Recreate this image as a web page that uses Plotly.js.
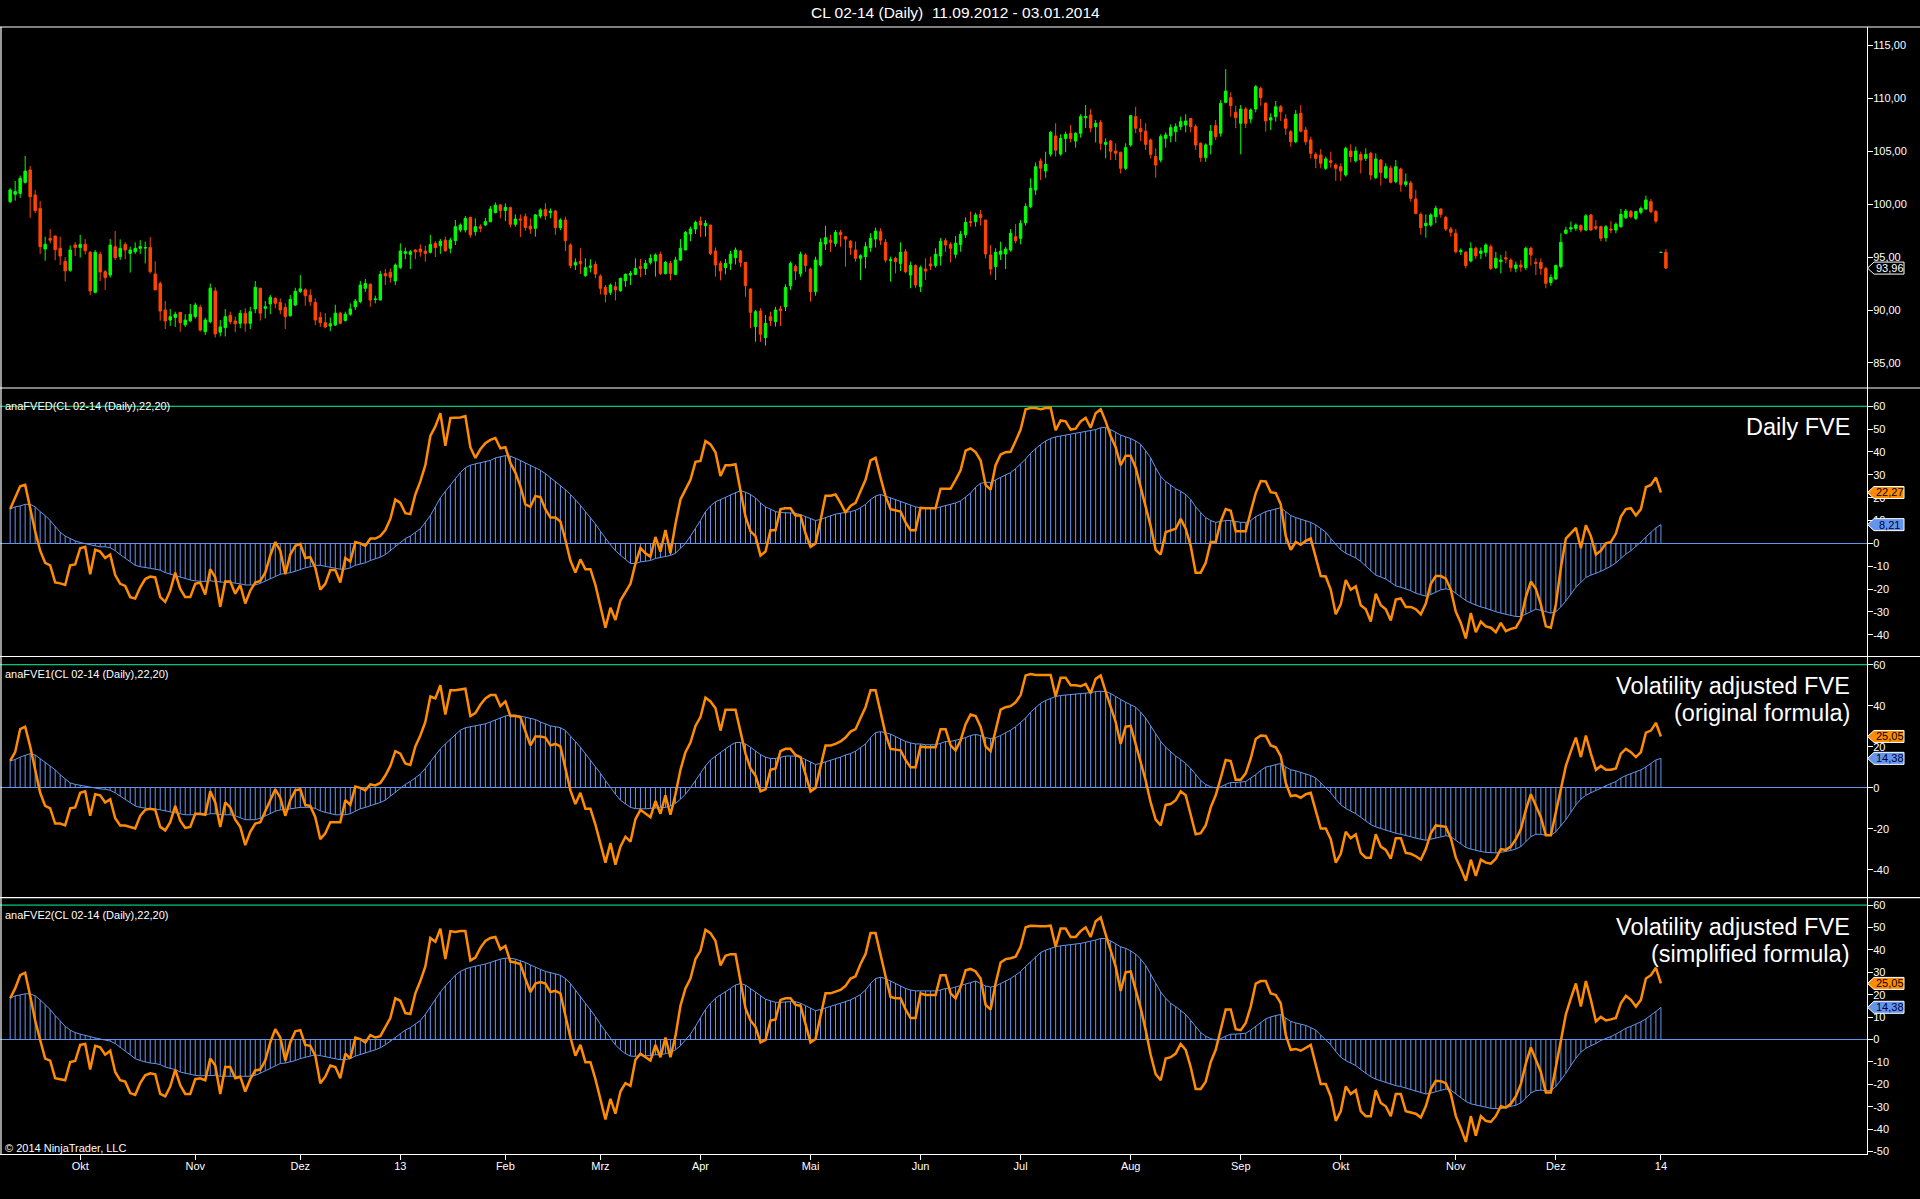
<!DOCTYPE html>
<html>
<head>
<meta charset="utf-8">
<script src="https://cdn.plot.ly/plotly-3.0.1.min.js"></script>
<style>html,body{margin:0;padding:0;background:#000;}#chart{width:1920px;height:1199px;}</style>
</head>
<body>
<div id="chart"></div>
<script>
// ---------------- DATA ----------------
const openP = [100.24,100.93,101.02,102.06,103.23,100.87,99.6,95.76,96.75,97.0,95.83,94.6,93.75,96.15,95.9,96.2,95.45,91.67,95.26,93.62,93.3,95.98,95.04,96.2,95.35,95.5,95.83,95.85,95.9,93.4,92.5,90.0,89.05,89.3,89.78,88.6,88.99,89.37,90.25,87.95,88.9,91.8,87.9,88.33,89.5,88.96,88.74,89.68,88.74,90.1,92.05,90.16,90.57,91.1,90.7,90.25,89.46,90.47,91.76,91.9,91.4,90.72,89.3,88.8,88.5,88.58,89.7,89.0,89.6,90.3,90.8,92.05,92.43,91.0,90.94,93.43,93.56,92.74,94.03,95.35,95.26,95.67,95.76,95.57,95.45,96.3,96.07,96.6,95.83,96.55,97.56,97.56,98.75,97.4,97.87,98.03,98.35,99.2,99.92,99.4,99.67,98.1,98.6,98.82,97.93,97.72,98.88,99.5,99.2,99.35,97.78,98.5,96.14,94.25,94.6,93.24,94.03,94.3,93.2,92.14,91.67,92.2,91.83,92.77,93.3,93.37,94.1,93.93,94.5,94.63,95.26,93.43,94.4,93.37,94.72,95.67,97.18,97.65,98.4,97.97,98.03,95.57,94.4,94.0,94.4,94.94,95.57,94.5,91.98,88.43,89.9,87.4,89.37,88.9,90.1,90.3,92.3,94.1,93.43,95.2,93.87,91.73,94.25,96.23,96.6,96.3,97.34,96.93,96.5,95.67,94.88,95.04,95.9,96.7,97.4,96.4,94.66,94.88,94.4,95.5,93.3,94.2,92.2,93.87,94.35,94.2,95.1,96.55,96.2,95.26,96.2,97.1,98.35,98.35,99.04,98.5,95.2,94.1,95.26,95.3,95.67,96.93,96.77,98.25,99.77,101.34,104.08,103.13,104.74,106.44,104.74,106.2,106.7,105.97,106.7,108.17,108.43,107.32,107.73,105.65,105.97,105.02,104.9,103.39,105.6,108.27,107.17,106.9,106.06,104.5,104.17,106.22,106.47,106.85,107.32,107.48,108.1,107.32,105.75,104.4,105.6,107.42,106.7,109.62,110.06,108.68,107.64,108.99,108.05,108.99,110.94,109.53,107.95,108.27,109.2,108.05,106.85,105.9,108.58,107.0,106.06,104.7,104.65,103.39,104.1,103.7,103.54,102.76,105.02,104.1,104.7,104.33,104.8,102.5,104.17,102.5,103.4,102.12,103.32,101.87,102.0,100.49,99.04,97.97,98.03,98.82,99.55,98.75,97.65,97.25,95.5,95.45,94.63,95.83,95.35,95.45,95.98,94.0,94.57,94.94,94.72,93.93,94.25,94.0,95.83,94.5,94.5,93.93,92.6,92.93,94.1,97.25,97.65,97.72,97.97,97.56,98.98,97.87,97.87,96.83,97.65,97.56,97.87,98.72,99.3,98.66,99.23,99.55,100.24,99.3,95.44,95.45];
const highP = [101.5,102.19,102.7,104.55,103.6,101.34,100.3,96.93,97.65,97.0,96.93,95.0,96.1,96.4,97.1,96.7,95.57,95.67,95.5,93.78,96.7,97.46,96.68,96.4,95.98,96.4,96.6,96.46,96.9,94.6,92.7,90.85,90.1,89.84,89.8,89.6,90.57,90.7,90.5,89.27,92.5,92.14,89.05,90.1,89.84,89.37,90.0,90.16,90.3,92.74,92.1,90.85,91.42,91.2,91.1,90.63,91.42,92.1,93.3,92.05,91.95,91.1,89.8,89.7,89.3,90.5,89.84,89.84,90.63,91.04,92.74,92.93,92.52,91.35,93.68,93.87,93.93,94.4,96.3,95.9,95.67,95.76,96.2,96.07,97.1,96.5,96.7,96.93,96.83,98.5,98.19,98.88,98.82,98.66,98.1,98.72,99.83,100.17,100.0,100.08,99.77,99.04,99.04,99.13,98.66,99.07,99.6,100.08,99.6,99.45,98.66,98.82,96.3,94.88,95.83,94.88,94.8,94.6,93.37,92.36,92.5,92.68,93.06,93.46,93.68,94.88,94.82,94.72,95.26,95.35,95.5,94.63,94.63,95.04,96.7,97.46,97.87,98.44,98.82,98.5,98.03,95.9,94.63,94.82,95.57,95.9,95.67,94.5,92.05,90.0,90.16,89.53,89.84,90.3,90.4,92.43,94.57,94.3,95.5,95.35,94.0,95.04,96.77,97.94,97.1,97.56,97.56,96.93,96.6,96.46,95.26,96.4,97.25,97.78,97.72,96.7,95.04,95.04,96.4,95.76,94.57,94.3,94.2,94.88,95.04,95.83,96.8,96.8,96.4,97.0,97.46,98.75,99.3,99.2,99.45,98.5,96.14,95.83,96.46,95.98,97.65,98.12,98.5,100.08,102.44,103.95,104.33,104.96,106.9,107.64,106.6,106.85,107.48,106.8,108.5,109.37,109.0,107.95,107.95,106.22,106.06,105.75,104.96,105.75,108.43,109.2,108.05,107.64,106.2,105.27,106.6,106.79,107.54,107.64,108.27,108.49,108.1,107.54,105.84,105.75,107.48,107.95,109.84,112.77,110.57,109.3,109.37,109.2,109.05,111.26,111.1,109.62,108.58,109.75,109.37,108.49,107.0,108.9,109.37,107.32,106.38,104.9,105.2,104.5,104.96,103.86,103.86,105.43,105.65,105.43,104.96,105.27,104.96,104.8,104.27,103.86,103.64,104.17,103.45,102.91,102.2,101.34,99.23,99.04,99.13,99.86,99.6,98.9,97.87,97.65,95.83,95.57,96.4,95.98,95.9,96.3,96.2,95.5,95.2,95.57,94.88,94.57,94.72,95.98,95.98,94.88,94.88,94.1,93.37,94.3,97.25,97.87,98.35,98.19,98.1,99.07,99.07,98.5,97.97,98.03,98.4,98.28,99.55,99.55,99.45,99.35,99.77,100.8,100.49,99.45,95.46,95.76];
const lowP = [100.1,100.33,100.6,101.94,98.7,99.13,95.3,94.66,96.3,94.7,94.25,92.7,93.6,95.1,94.95,95.26,91.4,91.57,92.74,91.9,93.06,94.72,94.72,94.8,93.53,95.3,95.3,94.4,93.46,91.9,89.0,88.2,88.5,88.4,87.95,88.4,88.84,89.2,87.95,87.64,88.74,87.4,87.5,87.5,88.65,87.9,88.27,87.95,88.2,89.7,89.0,89.2,89.6,90.16,89.6,88.2,89.37,90.4,91.6,90.4,90.4,88.58,88.4,88.27,88.0,88.5,88.65,88.9,89.46,90.0,90.63,91.7,90.3,90.63,90.94,92.36,92.6,92.36,93.87,94.8,93.87,94.8,95.04,94.57,95.35,95.0,95.3,95.5,95.35,96.14,97.34,97.34,96.83,97.03,97.34,97.96,98.28,99.13,98.66,98.4,97.8,97.87,96.9,97.5,97.2,96.93,98.66,98.5,98.66,97.1,97.56,95.57,93.93,93.78,93.4,93.15,93.56,93.0,91.48,90.72,91.42,90.9,91.73,92.2,92.36,93.3,93.1,93.3,94.3,93.15,93.3,93.37,92.8,93.3,94.63,95.67,96.5,97.18,96.9,96.93,95.2,93.15,92.8,93.37,93.78,94.3,94.06,91.26,88.27,87.0,87.0,86.63,88.5,88.43,88.5,89.9,91.9,92.83,93.15,93.62,90.78,91.35,94.1,95.67,95.5,95.98,95.98,94.1,95.2,94.57,92.83,93.93,95.5,95.9,96.14,94.5,92.68,93.46,93.68,93.46,92.05,92.05,91.7,92.83,93.78,94.0,94.2,95.5,94.5,94.88,95.5,96.8,97.87,97.87,97.97,94.88,93.3,92.83,94.72,93.87,95.5,96.3,96.2,97.97,99.6,100.87,102.28,102.5,104.5,104.5,104.58,104.9,105.84,105.34,106.28,107.2,106.8,105.84,105.12,104.33,104.17,104.17,102.9,103.23,105.43,106.7,105.97,105.12,104.33,102.5,103.95,105.34,105.84,105.9,107.0,106.79,106.79,105.12,104.0,104.0,104.7,106.06,106.38,109.53,108.27,107.17,104.7,107.2,107.64,108.68,109.3,106.85,107.0,107.8,107.86,106.54,105.43,105.75,106.79,105.6,104.33,103.39,103.39,103.23,103.45,102.2,102.2,102.6,103.95,103.95,102.9,104.08,102.28,102.38,101.75,102.38,101.97,101.97,101.18,101.65,100.24,99.04,97.1,96.83,97.87,98.19,98.72,97.46,96.93,95.35,95.2,93.93,94.5,94.82,94.8,95.04,93.78,93.87,93.46,94.4,93.62,93.56,93.62,93.78,94.2,93.3,93.3,92.05,92.3,92.84,93.93,97.15,97.34,97.46,97.34,97.46,97.46,97.56,96.5,96.46,97.25,97.25,97.78,98.6,98.66,98.5,99.04,99.45,99.13,98.19,95.43,93.87];
const closeP = [101.34,101.2,102.44,103.13,100.7,99.39,95.98,96.2,96.6,95.7,95.1,93.7,95.67,95.9,96.2,95.6,91.8,95.45,93.6,93.06,96.14,94.94,95.83,95.67,95.67,95.83,95.98,95.9,93.62,91.9,89.9,88.96,89.37,89.6,88.8,89.05,89.6,90.47,88.1,89.05,92.05,87.74,88.4,89.37,88.9,88.7,89.68,88.74,89.84,92.14,89.7,90.3,91.2,90.63,90.0,89.37,91.0,91.76,92.0,91.35,90.8,89.05,88.8,88.4,88.7,89.7,88.74,89.6,90.1,90.85,92.36,92.5,90.94,91.04,93.37,93.24,93.1,94.25,95.57,95.5,95.5,95.5,95.5,95.35,96.2,95.9,96.5,95.6,96.6,97.87,98.03,98.66,97.1,97.87,97.72,98.35,99.55,99.9,99.39,99.7,98.1,98.6,98.5,97.8,97.65,98.98,99.45,98.9,99.35,97.78,98.5,96.55,94.2,94.5,94.4,94.0,94.16,93.4,92.05,91.48,92.36,91.9,92.99,93.37,93.46,93.93,93.93,94.4,94.88,95.2,93.46,94.5,93.46,94.72,95.83,97.34,97.65,98.28,98.03,98.19,95.35,94.25,93.68,94.4,95.26,95.67,94.5,92.3,89.78,89.84,87.7,88.74,89.0,90.0,89.94,92.14,94.4,93.68,95.26,94.2,91.73,94.72,96.4,96.83,96.4,97.34,97.1,96.7,95.9,94.88,95.13,95.98,96.77,97.46,96.6,94.72,94.75,94.57,95.45,93.62,94.2,92.36,94.0,93.68,94.16,95.26,96.5,96.14,95.83,96.3,97.15,98.28,98.28,98.98,98.72,95.3,93.87,95.45,95.57,95.76,97.25,96.55,98.19,99.77,101.5,103.54,103.4,103.76,106.79,105.1,106.2,106.6,106.2,106.7,108.27,108.27,107.2,107.64,105.75,105.84,105.0,104.8,103.39,105.34,108.36,107.17,106.85,105.65,104.7,103.7,106.38,106.54,107.23,107.32,107.8,107.86,107.32,105.59,104.4,105.6,106.9,106.38,109.53,110.69,109.3,108.17,108.99,107.64,108.9,111.1,110.06,107.86,108.17,109.2,108.74,107.17,105.9,108.49,106.9,105.9,104.8,104.33,103.86,104.27,103.95,103.39,103.13,105.27,104.5,105.02,104.17,104.7,102.76,104.27,103.0,103.54,102.06,103.54,101.87,102.12,100.55,99.13,97.78,98.2,98.98,99.6,99.04,97.65,97.34,95.5,95.6,94.2,95.83,95.13,95.57,96.14,93.93,94.88,94.72,94.82,94.0,94.25,94.06,95.83,95.2,94.4,93.93,92.52,93.06,94.2,96.4,97.56,97.78,98.03,97.56,98.9,97.56,97.72,96.77,97.87,97.56,98.1,99.04,99.35,98.82,99.3,99.6,100.4,99.3,98.4,95.45,93.96];

const fvedLine = [15.0,19.9,25.0,25.6,15.0,5.3,-3.2,-8.5,-9.6,-17.1,-17.5,-18.2,-9.6,-9.2,-2.1,-1.5,-13.5,-2.8,-3.6,-6.4,-4.9,-13.9,-17.7,-18.6,-23.5,-24.1,-19.2,-15.6,-14.5,-14.9,-23.5,-25.6,-20.7,-12.8,-19.9,-23.5,-23.5,-17.7,-17.1,-22.4,-11.3,-14.9,-27.8,-16.7,-16.7,-22.0,-18.2,-26.3,-20.7,-17.1,-16.4,-12.8,-5.3,0.6,-3.2,-13.5,-4.9,-1.1,-0.2,-6.4,-6.0,-10.7,-20.3,-17.7,-11.7,-11.7,-17.1,-6.4,-7.9,0.6,0,-1.1,2.1,2.1,3.2,5.8,10.7,19.2,17.7,13.2,12.8,21.4,27.1,34.2,47.0,51.2,57.0,42.7,54.9,54.9,55.1,55.7,42.1,37.4,41.2,43.8,45.3,46.1,41.6,42.1,35.2,31.0,25.0,17.1,16.0,20.7,20.3,15.0,11.3,11.3,9.6,1.5,-7.5,-12.8,-7.0,-11.3,-11.3,-18.2,-27.8,-36.9,-28.2,-33.5,-25.0,-21.4,-17.7,-8.8,-2.1,-4.3,-5.8,2.8,-3.6,5.8,-4.3,8.5,19.2,23.5,27.8,35.7,36.1,44.8,43.3,39.9,29.5,34.2,34.2,34.6,23.5,11.7,5.3,3.2,-5.3,-3.6,5.8,5.8,15.0,15.4,15.4,12.2,12.2,4.3,-1.5,0,10.0,20.9,20.9,21.4,17.7,13.5,16.4,17.7,22.8,27.8,36.3,37.4,28.8,20.7,15.0,14.3,13.9,9.2,5.8,5.8,15.6,15.4,15.4,15.4,23.9,23.9,23.9,27.8,32.0,40.6,41.6,39.9,36.3,25.6,23.5,34.2,38.9,39.9,40.1,44.8,49.8,58.7,59.2,59.2,58.7,59.2,59.4,49.5,53.8,53.4,49.8,50.2,53.4,54.9,50.6,57.0,58.7,53.4,47.0,42.1,34.2,38.4,38.4,33.1,24.6,16.0,7.5,-2.8,-4.9,4.9,5.8,6.4,10.7,6.4,-1.1,-12.8,-12.8,-8.5,0.6,0.6,9.6,15.0,14.3,5.3,5.3,5.3,13.9,22.0,27.3,27.1,22.4,22.0,17.1,3.2,-2.8,0.6,-0.6,1.1,2.1,-6.4,-14.3,-14.5,-20.3,-31.0,-26.7,-16.0,-20.3,-18.8,-27.1,-28.8,-34.2,-22.0,-27.1,-28.8,-33.7,-24.6,-24.1,-27.8,-27.8,-28.8,-31.0,-26.3,-17.7,-14.3,-14.3,-15.4,-20.3,-29.9,-34.8,-41.6,-30.5,-38.9,-34.2,-36.3,-36.9,-38.9,-34.8,-38.4,-37.4,-36.9,-33.1,-23.5,-16.7,-19.9,-26.7,-36.3,-36.9,-26.7,-10.7,2.1,4.3,6.8,-2.1,7.9,3.2,-4.9,-3.2,0,0.6,4.3,11.7,15.0,15.4,12.2,15.0,24.6,25.6,28.8,22.27];
const fvedHist = [15.0,16.0,16.4,17.1,17.1,16.0,13.9,12.2,10.0,7.5,4.9,3.2,2.1,1.1,0.4,-0.2,-0.6,-1.1,-1.5,-1.5,-1.9,-3.2,-4.9,-6.4,-7.9,-9.6,-10.2,-10.7,-10.9,-11.3,-11.7,-12.8,-13.5,-13.9,-14.9,-15.6,-16.0,-16.4,-16.7,-16.7,-16.4,-16.7,-17.1,-17.1,-17.1,-17.3,-17.7,-18.2,-18.2,-18.2,-17.5,-16.4,-15.6,-14.5,-13.5,-13.2,-12.8,-12.2,-11.3,-10.7,-10.2,-9.6,-9.6,-10.0,-10.5,-10.9,-11.3,-11.3,-10.7,-9.6,-9.0,-8.5,-7.5,-6.8,-6.0,-4.9,-3.2,-1.5,0.6,2.1,3.2,4.7,6.4,9.2,12.2,16.0,19.9,22.8,25.6,28.2,31.0,33.1,34.2,34.8,35.2,35.7,36.3,37.4,38.0,38.4,38.2,37.4,36.3,35.2,34.2,33.1,32.0,30.5,28.8,27.1,25.4,23.5,21.4,19.2,16.7,13.9,11.3,8.5,5.3,2.1,-0.6,-3.2,-5.3,-7.0,-8.8,-8.8,-8.1,-7.9,-7.5,-6.6,-6.2,-5.8,-5.3,-4.3,-2.1,0,3.2,6.4,10.0,13.9,16.4,18.2,19.2,20.3,21.4,22.4,23.1,22.4,21.4,19.9,17.7,16.0,15.0,13.9,13.5,13.5,13.5,13.2,12.6,11.7,10.7,10.0,10.5,11.3,12.2,12.8,13.2,13.5,13.9,14.5,15.6,17.1,19.2,20.7,21.4,20.7,19.9,19.2,18.6,17.7,16.7,16.0,15.6,15.6,15.4,15.4,16.0,16.7,17.1,17.7,18.6,20.3,22.0,24.6,26.3,26.7,26.7,27.8,28.8,29.9,31.0,32.7,34.8,36.9,39.5,41.6,43.3,44.8,45.9,46.6,47.0,47.4,47.6,48.0,48.5,48.9,49.3,49.8,50.6,50.8,49.8,48.5,47.4,46.6,45.9,44.8,43.3,40.6,37.4,33.1,29.3,27.1,25.6,23.9,22.8,21.4,19.2,16.0,13.5,11.3,10.0,9.2,9.6,10.0,10.0,9.6,9.2,9.2,10.0,11.7,12.8,13.9,14.5,15.2,15.6,13.9,12.2,11.3,10.7,10.0,9.2,8.1,6.4,4.9,2.1,-0.6,-2.8,-4.3,-5.3,-6.4,-7.9,-10.0,-12.2,-13.9,-14.7,-15.6,-17.1,-18.6,-19.2,-19.9,-20.7,-21.8,-22.4,-23.1,-22.4,-21.4,-20.3,-19.9,-20.3,-21.8,-23.5,-25.0,-26.1,-27.1,-27.8,-28.4,-29.3,-29.9,-30.5,-31.0,-31.6,-32.0,-32.0,-31.0,-29.9,-28.8,-29.3,-29.9,-30.5,-29.9,-27.8,-25.2,-22.4,-19.2,-17.1,-14.9,-13.9,-13.2,-12.2,-11.1,-10.0,-8.5,-6.4,-4.7,-3.2,-1.5,0.6,2.8,4.9,6.8,8.21];

const fve1Line = [13.1,17.4,28.6,29.8,20.2,8.3,-2.4,-8.8,-10.0,-17.4,-17.4,-18.3,-10.0,-9.5,-2.4,-1.7,-13.6,-3.1,-3.6,-7.1,-5.5,-14.8,-18.3,-18.3,-19.0,-19.8,-13.6,-10.7,-10.2,-10.7,-19.0,-20.7,-16.7,-8.8,-16.0,-19.5,-19.0,-12.6,-12.6,-13.1,-1.7,-7.1,-19.0,-7.1,-9.5,-15.5,-19.0,-27.9,-21.4,-17.4,-16.7,-11.2,-6.0,-0.7,-4.8,-13.6,-6.0,-1.2,-0.7,-8.3,-8.8,-14.3,-25.0,-22.1,-16.7,-16.7,-16.7,-6.0,-8.3,0.7,0,-1.2,1.7,1.2,2.4,6.0,10.7,17.9,16.7,11.9,11.2,20.2,25.5,32.1,44.5,43.6,50.0,35.7,47.6,47.6,48.1,48.3,35.0,36.4,40.5,43.6,45.2,45.2,39.8,42.1,35.0,35.0,34.5,27.4,20.7,25.0,25.0,24.5,20.7,21.4,20.2,9.5,-1.2,-7.9,-2.4,-10.2,-10.2,-17.9,-27.4,-36.4,-26.9,-37.4,-28.6,-23.8,-26.2,-15.2,-10.7,-12.6,-14.3,-6.4,-12.6,-3.6,-13.1,-3.1,8.8,17.4,22.1,30.2,34.5,44.0,42.1,38.8,27.9,38.1,38.1,38.1,27.4,16.7,9.5,6.0,-1.7,-0.7,8.8,9.5,17.9,19.0,19.0,16.0,15.0,6.4,-1.7,0,10.7,20.7,20.7,21.4,22.6,24.5,27.4,28.6,34.0,39.3,47.6,47.6,36.9,26.2,19.0,18.6,18.3,13.6,10.0,10.0,20.2,19.8,19.8,19.8,28.6,28.6,20.7,18.3,23.1,31.0,35.7,35.0,29.8,20.2,17.9,27.4,38.1,39.3,39.8,41.7,45.2,54.8,55.5,55.0,55.0,55.0,55.0,44.5,53.6,53.6,50.0,50.0,49.5,50.7,46.0,53.1,54.8,46.9,39.3,32.1,21.4,29.8,30.2,21.4,13.1,3.6,-7.1,-15.5,-18.3,-8.3,-7.9,-6.0,-1.7,-3.6,-13.1,-22.6,-22.1,-18.3,-9.5,-3.6,4.8,13.6,13.1,4.0,4.0,7.1,14.3,23.8,25.5,25.3,20.7,19.8,15.5,2.4,-4.0,-3.6,-4.8,-3.1,-2.4,-10.7,-19.8,-19.8,-25.0,-36.4,-32.1,-21.4,-24.5,-22.6,-31.7,-34.0,-34.0,-22.6,-28.6,-30.2,-34.5,-24.5,-24.5,-31.7,-32.1,-33.3,-35.0,-29.8,-22.1,-18.3,-18.6,-19.0,-24.5,-34.0,-39.3,-45.2,-35.0,-42.9,-35.0,-36.4,-36.9,-34.5,-29.8,-30.2,-28.6,-25.0,-20.2,-10.7,-3.1,-8.3,-14.3,-23.1,-23.1,-11.9,0,10.7,17.9,24.5,15.0,25.5,16.7,8.8,10.7,8.8,8.8,9.5,16.7,19.0,17.4,15.0,17.4,26.9,27.9,31.7,25.05];
const fve1Hist = [13.1,13.8,15.0,16.0,16.7,16.0,14.3,12.6,10.7,8.8,6.4,4.3,2.4,1.7,1.2,0.7,0.2,0,-0.5,-0.7,-1.2,-2.4,-4.0,-5.5,-7.1,-8.8,-9.5,-10.0,-10.2,-10.2,-10.7,-11.4,-11.9,-12.1,-12.6,-13.1,-13.1,-13.1,-13.1,-13.1,-12.6,-12.6,-13.1,-13.1,-13.1,-13.6,-14.5,-15.5,-15.5,-15.5,-14.8,-13.6,-12.6,-11.4,-10.7,-10.7,-10.2,-9.8,-9.5,-9.5,-9.5,-10.0,-11.2,-11.9,-12.6,-13.1,-13.1,-13.1,-12.6,-11.2,-10.2,-9.5,-8.8,-7.9,-7.1,-6.0,-4.0,-2.4,0,1.7,3.1,4.8,6.7,9.5,12.6,16.0,19.0,21.4,23.8,26.2,28.1,29.3,29.8,30.2,30.7,31.2,32.1,33.1,34.0,35.0,35.5,35.5,35.0,34.5,34.0,33.3,32.1,31.0,30.2,29.8,29.3,27.9,25.0,22.6,19.8,16.7,13.6,10.2,7.1,3.6,0,-3.1,-6.0,-7.9,-9.5,-10.1,-10.2,-10.2,-10.0,-9.8,-9.5,-9.5,-8.8,-7.6,-5.5,-3.1,0,3.6,7.1,10.7,13.6,15.5,17.4,19.0,20.7,22.1,22.1,21.4,19.8,17.9,16.2,15.0,14.3,14.3,15.0,15.5,15.5,15.5,15.0,13.8,12.6,11.4,11.9,12.6,13.6,14.3,15.0,16.0,16.7,17.9,19.5,21.4,24.5,26.9,27.4,26.9,26.2,25.0,23.8,22.6,21.9,21.4,21.4,21.0,21.0,21.0,21.7,22.6,22.6,23.1,23.8,24.5,25.5,26.0,25.5,24.5,24.0,24.5,25.5,26.9,28.1,29.8,31.7,34.0,36.9,39.3,41.2,42.6,43.6,44.5,45.0,45.2,45.5,45.7,46.0,46.2,46.4,46.9,47.1,46.9,46.0,44.5,42.9,41.7,40.5,39.3,36.9,34.0,30.2,26.2,22.6,19.8,17.4,15.5,13.8,11.9,9.5,6.7,3.6,1.7,0.5,0,0.5,1.7,2.6,2.6,2.9,3.1,4.8,6.4,8.5,10.1,10.7,11.4,11.9,10.2,8.8,8.3,7.6,6.9,6.0,4.8,2.4,0,-2.4,-5.5,-8.3,-10.0,-11.2,-12.6,-14.3,-16.2,-17.9,-19.0,-19.8,-20.7,-21.4,-22.1,-22.6,-23.1,-23.8,-24.5,-25.0,-25.5,-25.0,-24.5,-23.8,-23.3,-23.8,-25.5,-27.4,-29.0,-29.8,-30.5,-31.0,-31.4,-31.7,-31.7,-31.4,-31.0,-30.5,-29.8,-28.6,-26.2,-23.8,-22.6,-22.6,-23.1,-23.1,-21.4,-18.6,-15.5,-11.9,-8.3,-5.5,-3.6,-2.4,-1.2,0,1.2,2.1,3.1,4.8,6.0,6.9,7.9,8.8,10.2,11.9,13.6,14.38];

const fve2Line = [18.4,22.8,28.7,29.8,19.5,8.5,-0.2,-8.5,-9.4,-17.3,-17.7,-18.2,-10.1,-9.6,-2.4,-2.0,-13.4,-2.8,-3.5,-6.8,-5.0,-14.5,-18.2,-18.8,-23.9,-24.7,-19.5,-16.0,-15.1,-15.5,-24.3,-25.4,-21.0,-13.4,-20.4,-24.3,-24.3,-17.7,-17.3,-18.2,-8.5,-11.6,-24.3,-12.3,-12.3,-17.3,-16.6,-23.2,-17.7,-13.8,-13.4,-9.4,-1.3,4.6,0.9,-9.4,-1.3,3.7,4.2,-2.4,-2.8,-7.2,-19.5,-16.6,-11.6,-12.3,-17.3,-6.3,-8.5,0.9,0.2,-1.3,2.0,0.9,1.5,5.3,9.6,18.4,17.3,11.8,11.4,20.6,26.1,32.6,45.3,43.6,49.5,35.9,48.4,48.0,48.4,48.4,35.3,36.6,40.9,44.0,45.3,45.8,40.3,41.8,34.8,34.4,33.7,27.2,21.2,25.0,25.6,25.0,21.2,21.7,20.6,10.7,0.9,-7.2,-2.4,-10.1,-10.1,-17.7,-26.5,-35.7,-26.5,-33.1,-23.2,-19.5,-20.7,-9.0,-6.3,-7.9,-9.4,-2.4,-7.9,0.9,-7.9,1.5,15.1,22.8,27.2,35.9,39.6,49.0,47.5,44.0,33.1,37.4,38.1,38.1,26.5,14.0,8.5,5.7,-1.3,-0.2,8.5,9.0,17.7,18.4,18.4,15.5,15.1,6.8,-1.3,0.2,10.7,20.6,20.6,21.2,22.1,23.9,27.2,28.2,33.7,38.1,47.5,47.5,37.4,28.2,19.0,18.4,18.4,13.4,9.6,9.6,20.6,19.9,19.9,19.9,28.7,28.7,20.6,18.4,23.4,30.9,31.5,30.4,27.2,15.5,13.4,25.0,34.4,35.9,36.3,37.0,41.4,50.1,50.8,50.6,50.6,50.6,50.8,41.4,49.5,49.5,45.8,45.8,48.4,50.1,45.8,52.8,54.5,46.9,39.2,32.6,21.7,30.0,30.4,22.1,14.0,4.2,-6.8,-15.5,-18.2,-8.5,-7.9,-6.3,-2.0,-4.6,-12.3,-22.1,-22.1,-18.8,-10.1,-4.6,4.2,13.4,13.4,4.6,4.2,7.4,14.7,25.0,26.1,26.1,20.6,19.9,16.2,2.0,-4.6,-4.2,-5.0,-3.5,-2.4,-11.2,-19.9,-19.9,-25.4,-36.3,-32.0,-21.0,-24.3,-22.6,-32.0,-34.2,-34.2,-22.6,-28.3,-29.8,-34.2,-24.3,-24.3,-32.0,-32.4,-33.1,-34.8,-29.8,-22.1,-18.4,-18.6,-19.5,-24.3,-34.2,-39.6,-45.7,-34.2,-42.9,-34.2,-36.3,-36.8,-34.2,-29.8,-30.4,-28.7,-25.4,-19.9,-10.7,-3.5,-9.0,-14.5,-23.6,-23.6,-12.3,-0.2,11.2,18.4,25.0,14.7,26.1,17.7,8.1,10.1,8.5,9.0,9.6,16.2,19.5,17.7,14.7,17.7,27.2,28.7,32.0,25.05];
const fve2Hist = [18.4,19.5,19.9,20.4,20.4,19.5,17.7,15.5,13.4,10.7,8.1,5.9,4.2,3.1,2.4,2.0,1.3,0.7,0.2,-0.2,-0.7,-1.8,-3.5,-5.0,-6.8,-8.5,-9.4,-10.1,-10.5,-10.7,-11.2,-12.3,-12.9,-13.4,-14.5,-15.1,-15.5,-16.0,-16.2,-16.2,-16.0,-16.0,-16.4,-16.4,-16.4,-16.4,-16.6,-16.6,-16.4,-16.0,-15.1,-14.0,-12.9,-11.8,-10.7,-10.5,-10.1,-9.4,-8.5,-7.9,-7.2,-6.8,-7.2,-7.7,-8.1,-8.5,-9.0,-9.0,-8.5,-7.4,-6.8,-6.1,-5.3,-4.6,-3.7,-2.4,-0.9,0.9,2.6,4.2,5.3,6.8,8.5,11.2,14.7,18.0,21.2,23.9,26.5,28.7,30.4,31.5,32.2,32.6,33.1,33.7,34.4,35.3,35.9,36.3,36.3,35.9,35.3,34.4,33.3,32.2,31.3,30.4,30.0,29.3,28.7,27.2,25.0,22.1,19.5,16.2,13.4,10.3,6.8,3.7,0.2,-2.4,-4.6,-6.3,-7.4,-7.5,-7.2,-7.2,-7.2,-6.8,-6.8,-6.3,-5.7,-4.6,-2.8,-0.2,2.4,5.9,9.6,13.4,16.2,18.4,19.9,21.2,22.8,24.3,25.0,24.3,22.8,21.2,19.5,18.0,17.3,16.6,16.6,16.9,16.9,16.9,16.2,15.1,14.0,12.9,13.4,14.0,14.7,15.5,16.2,16.9,17.7,18.8,20.1,22.1,25.0,27.2,27.8,27.2,26.1,25.0,23.9,22.8,22.1,21.7,21.7,21.7,21.7,21.7,22.1,22.8,22.8,23.4,23.9,24.5,25.4,26.1,25.0,23.9,23.4,23.9,25.0,26.1,27.2,28.7,30.4,32.6,34.8,37.0,38.8,39.9,40.7,41.4,41.8,42.0,42.3,42.5,42.9,43.4,43.8,44.4,45.1,45.1,44.0,42.5,41.4,40.7,39.6,38.1,35.9,33.1,29.3,25.0,21.2,18.4,16.2,14.7,12.9,11.2,8.5,5.9,3.1,1.5,0.4,-0.2,0.4,1.5,2.4,2.4,2.6,2.8,4.2,5.9,7.6,9.2,10.1,10.7,11.2,9.6,8.1,7.4,6.8,6.3,5.3,4.2,2.0,-0.2,-2.4,-5.3,-7.9,-9.4,-10.5,-11.6,-13.4,-15.1,-16.6,-17.7,-18.4,-19.3,-19.9,-20.6,-21.0,-21.7,-22.3,-23.2,-23.9,-24.3,-23.9,-23.2,-22.6,-22.1,-22.6,-24.3,-26.1,-27.6,-28.7,-29.3,-29.8,-30.2,-30.7,-30.9,-30.9,-30.4,-30.0,-29.3,-28.3,-26.1,-23.9,-22.8,-22.6,-22.8,-22.8,-21.0,-18.2,-15.1,-11.6,-8.3,-5.7,-3.9,-2.8,-1.8,-0.4,0.4,1.3,2.4,3.7,5.0,5.9,6.8,7.9,9.2,10.7,12.5,14.38];

const monthTickBar = [14,37,58,78,99,118,138,160,182,202,224,246,266,289,309,330];
const monthTickText = ['Okt','Nov','Dez','13','Feb','Mrz','Apr','Mai','Jun','Jul','Aug','Sep','Okt','Nov','Dez','14'];
const priceTicks = [85,90,95,100,105,110,115];
const fvedTicks = [60,50,40,30,20,10,0,-10,-20,-30,-40];
const fve1Ticks = [60,40,20,0,-20,-40];
const fve2Ticks = [60,50,40,30,20,10,0,-10,-20,-30,-40,-50];

// ---------------- LAYOUT GEOMETRY ----------------
const FONT = 'Arial, "Liberation Sans", sans-serif';
const W = 1920, H = 1199, PR = 1867, PT = 27, PB = 1154;
const paneTops = [27, 388, 656.5, 897.7, 1154];
const ranges = { y:[82.63,116.74], y2:[-49.5,68.0], y3:[-53.5,64.0], y4:[-51.1,63.3] };
const paneOf = { y:0, y2:1, y3:2, y4:3 };
const pX = X => X / PR;
const pY = Y => (PB - Y) / (PB - PT);
function valPx(ax, v) {
  const r = ranges[ax], i = paneOf[ax];
  return paneTops[i] + (r[1] - v) / (r[1] - r[0]) * (paneTops[i+1] - paneTops[i]);
}
const bars = closeP.map((_, i) => i);
const fmt = v => v.toFixed(2).replace('.', ',');

// ---------------- TRACES ----------------
const traces = [];
traces.push({
  type:'candlestick', x:bars, open:openP, high:highP, low:lowP, close:closeP,
  xaxis:'x', yaxis:'y', whiskerwidth:0, hoverinfo:'skip',
  increasing:{line:{color:'#00FF00', width:1}, fillcolor:'#00FF00'},
  decreasing:{line:{color:'#FF4500', width:1}, fillcolor:'#FF4500'}
});
function addPanel(lineVals, histVals, ax) {
  const xs = [], ys = [];
  histVals.forEach((v, i) => { xs.push(i, i, null); ys.push(0, v, null); });
  traces.push({type:'scatter', mode:'lines', x:xs, y:ys, xaxis:'x', yaxis:ax,
    line:{color:'#6495ED', width:1}, hoverinfo:'skip', connectgaps:false});
  traces.push({type:'scatter', mode:'lines', x:histVals.map((_, i) => i), y:histVals, xaxis:'x', yaxis:ax,
    line:{color:'#6495ED', width:1}, hoverinfo:'skip'});
  traces.push({type:'scatter', mode:'lines', x:lineVals.map((_, i) => i), y:lineVals, xaxis:'x', yaxis:ax,
    line:{color:'#FF8C00', width:2.5}, hoverinfo:'skip'});
}
addPanel(fvedLine, fvedHist, 'y2');
addPanel(fve1Line, fve1Hist, 'y3');
addPanel(fve2Line, fve2Hist, 'y4');

// ---------------- AXES ----------------
const tickFont = {family:FONT, size:11, color:'#FFFFFF'};
function yAxis(ax, ticks, labels, zero) {
  const i = paneOf[ax];
  return {
    domain:[pY(paneTops[i+1]), pY(paneTops[i])], anchor:'x', side:'right',
    range:ranges[ax], autorange:false, fixedrange:true,
    tickmode:'array', tickvals:ticks, ticktext:labels,
    ticks:'outside', ticklen:5, tickwidth:1, tickcolor:'#FFFFFF', ticklabelstandoff:-2,
    showline:true, linecolor:'#FFFFFF', linewidth:1, showgrid:false,
    zeroline:zero, zerolinecolor:'#6495ED', zerolinewidth:1, tickfont:tickFont
  };
}
const lastIdx = fvedLine.length - 1;

// ---------------- SHAPES ----------------
const shapes = [];
['y2','y3','y4'].forEach(ax => shapes.push({type:'line', xref:'paper', yref:ax, x0:0, x1:1, y0:60, y1:60,
  line:{color:'#00FA9A', width:1}, layer:'below'}));
[27, 388, 656.5, 897.7].forEach(Y => shapes.push({type:'line', xref:'paper', yref:'paper',
  x0:0, x1:W / PR, y0:pY(Y), y1:pY(Y), line:{color:'#FFFFFF', width:1.2}}));
shapes.push({type:'line', xref:'paper', yref:'paper', x0:pX(1), x1:pX(1), y0:0, y1:1,
  line:{color:'#FFFFFF', width:1.2}});

const annotations = [];
function tag(ax, value, fill, txtColor) {
  const yc = valPx(ax, value), h = 6;
  const path = `M ${pX(1867.5)},${pY(yc)} L ${pX(1874)},${pY(yc - h)} L ${pX(1904)},${pY(yc - h)} L ${pX(1904)},${pY(yc + h)} L ${pX(1874)},${pY(yc + h)} Z`;
  shapes.push({type:'path', xref:'paper', yref:'paper', path:path, fillcolor:fill,
    line:{color:'#FFFFFF', width:1}, layer:'above'});
  annotations.push({xref:'paper', yref:'paper', x:pX(1889.5), y:pY(yc), xanchor:'center', yanchor:'middle',
    text:fmt(value), showarrow:false, font:{family:FONT, size:11, color:txtColor}});
}
tag('y', closeP[closeP.length - 1], '#000000', '#FFFFFF');
tag('y2', fvedLine[lastIdx], '#FF8C00', '#000000');
tag('y2', fvedHist[lastIdx], '#6495ED', '#000033');
tag('y3', fve1Line[lastIdx], '#FF8C00', '#000000');
tag('y3', fve1Hist[lastIdx], '#6495ED', '#000033');
tag('y4', fve2Line[lastIdx], '#FF8C00', '#000000');
tag('y4', fve2Hist[lastIdx], '#6495ED', '#000033');

// ---------------- TEXTS ----------------
function txt(text, X, Y, size, anchor) {
  annotations.push({xref:'paper', yref:'paper', x:pX(X), y:pY(Y), xanchor:anchor, yanchor:'middle',
    text:text, showarrow:false, font:{family:FONT, size:size, color:'#FFFFFF'}});
}
txt('CL 02-14 (Daily) \u00a011.09.2012 - 03.01.2014', 955, 13, 15.5, 'center');
txt('anaFVED(CL 02-14 (Daily),22,20)', 3, 406, 11, 'left');
txt('anaFVE1(CL 02-14 (Daily),22,20)', 3, 674, 11, 'left');
txt('anaFVE2(CL 02-14 (Daily),22,20)', 3, 915, 11, 'left');
txt('\u00a9 2014 NinjaTrader, LLC', 3, 1148, 11, 'left');
txt('Daily FVE', 1852, 427, 23.5, 'right');
txt('Volatility adjusted FVE', 1852, 686, 23.5, 'right');
txt('(original formula)', 1852, 713, 23.5, 'right');
txt('Volatility adjusted FVE', 1852, 927, 23.5, 'right');
txt('(simplified formula)', 1852, 954.5, 23.5, 'right');

const layout = {
  width:W, height:H, paper_bgcolor:'#000000', plot_bgcolor:'#000000',
  margin:{l:0, r:W - PR, t:PT, b:H - PB, pad:0}, showlegend:false, hovermode:false,
  font:{family:FONT, color:'#FFFFFF', size:11},
  xaxis:{
    anchor:'y4', range:[-2.03, 371.2], autorange:false, fixedrange:true,
    tickmode:'array', tickvals:monthTickBar, ticktext:monthTickText,
    ticks:'outside', ticklen:5, tickwidth:1, tickcolor:'#FFFFFF', ticklabelstandoff:-3,
    showline:true, linecolor:'#FFFFFF', linewidth:1, showgrid:false, zeroline:false,
    rangeslider:{visible:false}, tickfont:tickFont
  },
  yaxis: yAxis('y', priceTicks, priceTicks.map(fmt), false),
  yaxis2: yAxis('y2', fvedTicks, fvedTicks.map(String), true),
  yaxis3: yAxis('y3', fve1Ticks, fve1Ticks.map(String), true),
  yaxis4: yAxis('y4', fve2Ticks, fve2Ticks.map(String), true),
  shapes:shapes, annotations:annotations
};
Plotly.newPlot('chart', traces, layout, {staticPlot:true, displayModeBar:false});
</script>
</body>
</html>
